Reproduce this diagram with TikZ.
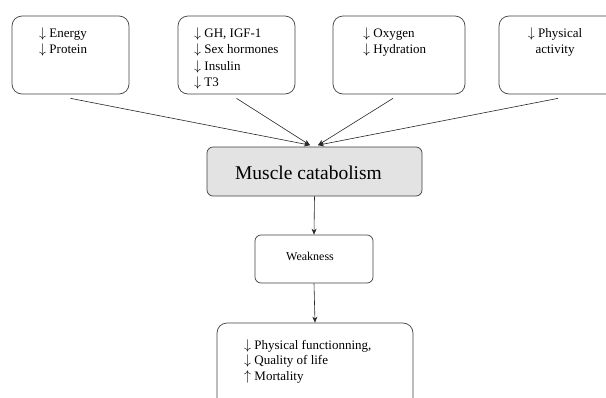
\RequirePackage{fix-cm}
\documentclass[tikz,border=0pt]{standalone}
\usepackage{fontspec}
\setmainfont{Liberation Serif}
\usetikzlibrary{arrows.meta}
\newcommand{\dn}{{\fontsize{14}{14}\selectfont$\downarrow$}\space}
\newcommand{\up}{{\fontsize{14}{14}\selectfont$\uparrow$}\space}
\begin{document}
\begin{tikzpicture}[x=1pt,y=-1pt,
    box/.style={draw=black!75,line width=0.7pt,rounded corners=10pt,inner sep=0pt},
    txt/.style={inner sep=0pt,align=left,font=\fontsize{13}{16.5}\selectfont},
    link/.style={draw=black!85,line width=0.6pt,->,>={Stealth[length=6pt,width=5pt]}}]
    \clip (0,0) rectangle (606,397);
    % the four causes
    \node[box,minimum width=117pt,minimum height=78pt] (energy) at (70.5,55) {};
    \node[box,minimum width=117pt,minimum height=78pt] (hormones) at (236.5,55) {};
    \node[box,minimum width=132pt,minimum height=78pt] (oxygen) at (399,55) {};
    \node[box,minimum width=118pt,minimum height=78pt] (activity) at (558,55) {};
    \node[txt,anchor=base west] (energytxt) at (39,53.5) {\dn Energy\\\dn Protein};
    \node[txt,anchor=base west] (hormonestxt) at (194,86.5) {\dn GH, IGF-1\\\dn Sex hormones\\\dn Insulin\\\dn T3};
    \node[txt,anchor=base west] (oxygentxt) at (363,53.5) {\dn Oxygen\\\dn Hydration};
    \node[txt,align=center,anchor=base] (activitytxt) at (555,53.5) {\dn Physical\\activity};
    % muscle catabolism and what follows
    \node[box,rounded corners=6pt,fill=black!11,minimum width=215pt,minimum height=49pt] (catab) at (314.5,171.5) {};
    \node[inner sep=0pt,anchor=base,font=\fontsize{19.5}{22}\selectfont] (catabtxt) at (308.5,179) {Muscle catabolism};
    \node[box,rounded corners=6pt,minimum width=118pt,minimum height=48pt] (weak) at (314,259) {};
    \node[inner sep=0pt,anchor=base,font=\fontsize{12}{14}\selectfont] (weaktxt) at (310,260) {Weakness};
    \node[box,minimum width=196pt,minimum height=86pt] (outcome) at (315,366) {};
    \node[txt,anchor=base west,font=\fontsize{13}{15.5}\selectfont] (outcometxt) at (244,380) {\dn Physical functionning,\\\dn Quality of life\\\up Mortality};
    % connectors
    \coordinate (tipL) at ([xshift=-4.5pt,yshift=1.5pt]catab.north);
    \coordinate (tipR) at ([xshift=3.5pt,yshift=1.5pt]catab.north);
    \draw[link] ([yshift=-4pt]energy.south) -- (tipL);
    \draw[link] ([yshift=-4pt]hormones.south) -- (tipL);
    \draw[link] ([xshift=-6pt,yshift=-4pt]oxygen.south) -- (tipR);
    \draw[link] ([yshift=-4pt]activity.south) -- (tipR);
    \draw[link] (catab.south) -- (weak.north);
    \draw[link] (weak.south) -- (outcome.north);
\end{tikzpicture}
\end{document}
